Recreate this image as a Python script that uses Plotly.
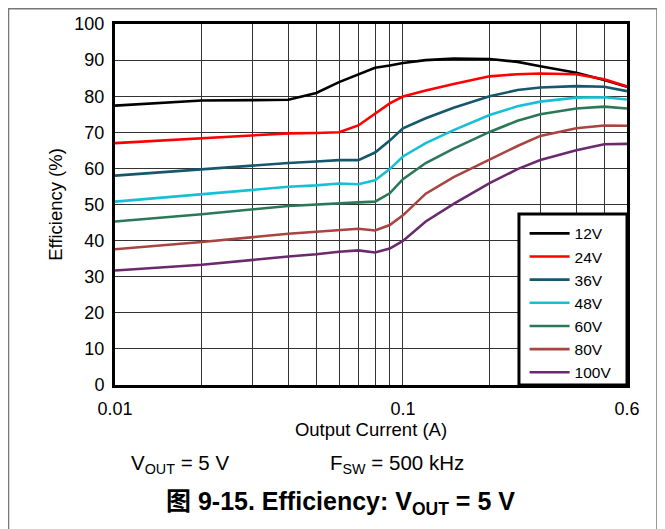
import plotly.graph_objects as go

# output current (A)
current = [0.01, 0.02, 0.04, 0.05, 0.06, 0.07, 0.08, 0.09, 0.1, 0.12,
           0.15, 0.2, 0.25, 0.3, 0.4, 0.5, 0.6]

# efficiency (%) per input voltage
eff_12v = [77.4, 78.8, 79.0, 80.9, 83.9, 86.0, 87.9, 88.5, 89.2, 90.0,
           90.4, 90.3, 89.5, 88.3, 86.5, 84.5, 82.6]
eff_24v = [67.0, 68.4, 69.7, 69.8, 70.0, 71.9, 75.2, 78.0, 79.9, 81.6,
           83.4, 85.5, 86.1, 86.3, 86.1, 84.7, 82.7]
eff_36v = [58.0, 59.8, 61.5, 61.9, 62.3, 62.3, 64.4, 67.7, 71.1, 73.9,
           76.8, 80.0, 81.7, 82.4, 82.8, 82.6, 81.4]
eff_48v = [50.8, 52.9, 54.9, 55.3, 55.8, 55.6, 56.7, 59.8, 63.3, 67.0,
           70.6, 74.8, 77.2, 78.5, 79.6, 79.7, 79.1]
eff_60v = [45.3, 47.3, 49.6, 50.0, 50.5, 50.6, 50.8, 53.1, 57.0, 61.5,
           65.5, 70.1, 73.2, 75.0, 76.6, 77.1, 76.6]
eff_80v = [37.6, 39.6, 41.9, 42.4, 43.0, 43.3, 42.8, 44.3, 47.0, 53.0,
           57.6, 62.5, 66.2, 69.0, 71.1, 71.9, 71.8]
eff_100v = [31.7, 33.3, 35.6, 36.2, 36.9, 37.3, 36.7, 37.8, 39.9, 45.3,
            50.2, 55.9, 59.8, 62.3, 65.0, 66.7, 66.8]

names = ["12V", "24V", "36V", "48V", "60V", "80V", "100V"]
series = [eff_12v, eff_24v, eff_36v, eff_48v, eff_60v, eff_80v, eff_100v]
colors = ["#000000", "#ff0000", "#16586b", "#17bfd6", "#2b7857", "#a84441", "#6a2a6c"]

x_ticks = [0.01, 0.1, 0.6]
x_minor = [0.02, 0.03, 0.04, 0.05, 0.06, 0.07, 0.08, 0.09, 0.2, 0.3, 0.4, 0.5]

FONT = "Arial, Liberation Sans, Noto Sans CJK SC, sans-serif"

fig = go.Figure()
for name, vals, col in zip(names, series, colors):
    fig.add_trace(go.Scatter(x=current, y=vals, mode="lines", name=name,
                             line=dict(color=col, width=2.6)))

fig.update_layout(
    width=665, height=529,
    margin=dict(l=107, r=46, t=16, b=152),
    paper_bgcolor="white", plot_bgcolor="white",
    font=dict(family=FONT, size=18, color="black"),
    showlegend=True,
    legend=dict(x=0.80, y=0.466, xanchor="left", yanchor="top",
                bgcolor="rgba(0,0,0,0)", borderwidth=0, itemwidth=40,
                font=dict(size=15.5), tracegroupgap=0),
    xaxis=dict(type="log", range=[-2, -0.2218],
               tickvals=x_ticks, ticktext=["0.01", "0.1", "0.6"],
               showgrid=True, gridcolor="#333", gridwidth=1.3,
               minor=dict(tickvals=x_minor, showgrid=True, gridcolor="#333", gridwidth=1.3),
               showline=True, linecolor="black", linewidth=3, mirror=True,
               ticks="", ticklabelstandoff=5, automargin=False,
               title=dict(text="Output Current (A)", font=dict(size=18.5), standoff=0),
               zeroline=False),
    yaxis=dict(range=[0, 100], dtick=10,
               showgrid=True, gridcolor="#333", gridwidth=1.3,
               showline=True, linecolor="black", linewidth=3, mirror=True,
               ticks="", ticklabelstandoff=4, automargin=False,
               title=dict(text="Efficiency (%)", font=dict(size=18.5), standoff=7),
               zeroline=False),
)

# legend box
fig.add_shape(type="rect", xref="paper", yref="paper",
              x0=0.789, x1=1.0, y0=0.0, y1=0.474,
              line=dict(color="black", width=3), fillcolor="white", layer="above")
# outer frame
fig.add_shape(type="rect", xref="paper", yref="paper",
              x0=-0.208, x1=1.0586, y0=-0.6, y1=1.0423,
              line=dict(color="#777", width=1.5), fillcolor="rgba(0,0,0,0)")

fig.add_annotation(text="V<sub>OUT</sub> = 5 V", xref="paper", yref="paper",
                   x=0.027, y=-0.218, xanchor="left", yanchor="middle",
                   showarrow=False, font=dict(size=20.5))
fig.add_annotation(text="F<sub>SW</sub> = 500 kHz", xref="paper", yref="paper",
                   x=0.416, y=-0.218, xanchor="left", yanchor="middle",
                   showarrow=False, font=dict(size=20.5))
fig.add_annotation(text="<b>图 9-15. Efficiency: V<sub>OUT</sub> = 5 V</b>",
                   xref="paper", yref="paper", x=0.44, y=-0.326,
                   xanchor="center", yanchor="middle",
                   showarrow=False, font=dict(size=25))

fig.write_html("out.html")
